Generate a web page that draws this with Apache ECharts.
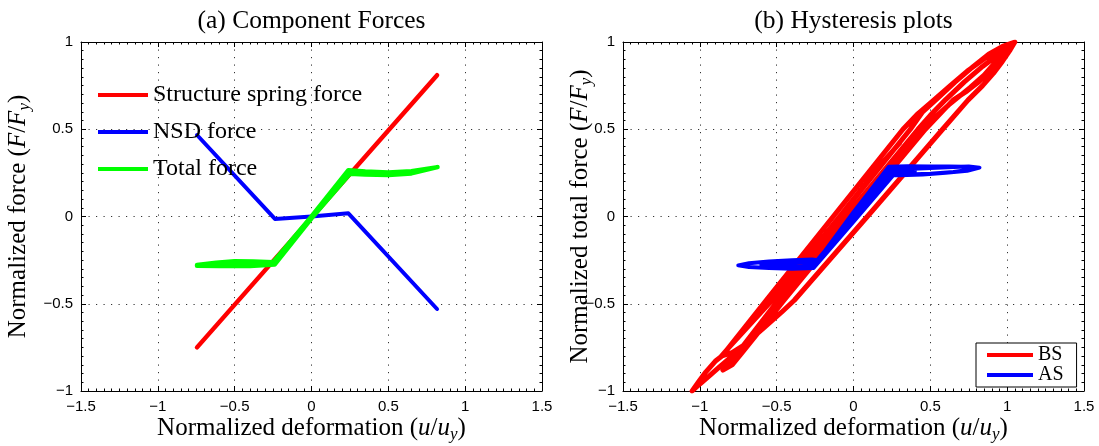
<!DOCTYPE html>
<html>
<head>
<meta charset="utf-8">
<script src="https://cdn.jsdelivr.net/npm/echarts@6/dist/echarts.min.js"></script>
<style>
  html, body { margin: 0; padding: 0; background: #fff; }
  #chart { width: 1099px; height: 446px; }
</style>
</head>
<body>
<div id="chart"></div>
<script>
// Axis ticks shared by both panels
const xTicks = [-1.5, -1, -0.5, 0, 0.5, 1, 1.5];
const yTicks = [-1, -0.5, 0, 0.5, 1];

// (a) Component forces: [normalized deformation, normalized force]
const springForce = [[-0.745, -0.75], [0.817, 0.81]];
const nsdForce = [[-0.745, 0.467], [-0.238, -0.014], [0.0, 0.0], [0.24, 0.018], [0.817, -0.53]];
const totalForce = [
  [-0.745, -0.278], [-0.62, -0.265], [-0.5, -0.257], [-0.38, -0.258], [-0.25, -0.262],
  [0.0, 0.0], [0.24, 0.265], [0.35, 0.258], [0.5, 0.252], [0.65, 0.26], [0.82, 0.283],
  [0.65, 0.247], [0.5, 0.238], [0.35, 0.24], [0.25, 0.245], [0.0, -0.01],
  [-0.24, -0.275], [-0.4, -0.283], [-0.6, -0.283], [-0.745, -0.282]
];

// (b) Hysteresis of the bare structure (BS), traced cycle by cycle
const bsPath = [
  // first loading from rest up to the largest peak
  [-0.09, 0.0], [0.15, 0.26], [0.37, 0.5], [0.45, 0.6], [0.55, 0.68], [0.66, 0.77],
  [0.78, 0.86], [0.88, 0.93], [0.97, 0.975], [1.05, 1.0],
  // unloading to the largest negative peak
  [1.02, 0.955], [0.97, 0.89], [0.91, 0.82], [0.84, 0.75], [0.745, 0.667], [0.58, 0.5],
  [0.1, 0.01], [-0.385, -0.48], [-0.47, -0.55], [-0.58, -0.635], [-0.69, -0.72],
  [-0.79, -0.8], [-0.87, -0.86], [-0.94, -0.915], [-1.0, -0.96], [-1.05, -1.0],
  // reloading
  [-1.01, -0.95], [-0.96, -0.89], [-0.9, -0.83], [-0.856, -0.8], [-0.568, -0.48],
  [-0.132, 0.0], [0.322, 0.5], [0.42, 0.59], [0.52, 0.665], [0.63, 0.75], [0.75, 0.84],
  [0.86, 0.91], [0.94, 0.95], [1.0, 0.965],
  // unloading
  [0.96, 0.91], [0.9, 0.845], [0.82, 0.775], [0.74, 0.72], [0.648, 0.667], [0.468, 0.5],
  [-0.005, 0.0], [-0.452, -0.48], [-0.597, -0.64], [-0.725, -0.78], [-0.79, -0.85], [-0.85, -0.88],
  // reloading
  [-0.81, -0.84], [-0.77, -0.8], [-0.49, -0.48], [-0.05, 0.0], [0.42, 0.5], [0.5, 0.58],
  [0.6, 0.67], [0.72, 0.77], [0.84, 0.86], [0.96, 0.94],
  // unloading
  [0.92, 0.88], [0.85, 0.81], [0.76, 0.74], [0.62, 0.64], [0.445, 0.5], [-0.027, 0.0],
  [-0.47, -0.48], [-0.6, -0.63], [-0.7, -0.73], [-0.79, -0.78], [-0.86, -0.8],
  // last reloading
  [-0.83, -0.77], [-0.81, -0.75], [-0.53, -0.48], [-0.09, 0.0], [0.2, 0.32], [0.3, 0.42]
];
// Same record with the NSD added (AS)
const asPath = [
  [0.0, 0.0], [0.24, 0.262], [0.35, 0.272], [0.5, 0.278], [0.65, 0.283], [0.75, 0.287], [0.82, 0.28],
  [0.74, 0.262], [0.6, 0.25], [0.45, 0.24], [0.3, 0.236], [0.26, 0.238], [0.0, -0.03],
  [-0.26, -0.295], [-0.4, -0.3], [-0.55, -0.295], [-0.68, -0.29], [-0.75, -0.28],
  [-0.68, -0.268], [-0.55, -0.258], [-0.4, -0.25], [-0.27, -0.246], [-0.23, -0.25], [0.0, 0.025],
  [0.23, 0.285], [0.35, 0.288], [0.5, 0.287], [0.62, 0.287], [0.72, 0.285], [0.77, 0.27],
  [0.65, 0.255], [0.5, 0.245], [0.35, 0.24], [0.25, 0.24], [0.0, -0.01], [-0.25, -0.28],
  [-0.35, -0.285], [-0.5, -0.28], [-0.6, -0.275],
  [-0.45, -0.265], [-0.3, -0.26], [-0.25, -0.265], [0.0, 0.0], [0.25, 0.26], [0.4, 0.262]
];

const SERIF = 'Liberation Serif';
const SANS = 'Liberation Sans';

const fmt = v => (v < 0 ? '\u2212' : '') + String(Math.abs(v));

const nameStyle = {
  fontFamily: SERIF, fontSize: 25, color: '#000', lineHeight: 30,
  rich: {
    i: { fontFamily: SERIF, fontSize: 25, fontStyle: 'italic', color: '#000' },
    s: { fontFamily: SERIF, fontSize: 17, fontStyle: 'italic', color: '#000', verticalAlign: 'bottom' }
  }
};

const tickStyle = { color: '#000', width: 1 };
const gridLine = { color: '#333', width: 1, type: [1.2, 6.3] };

function xAxisPair(grid, name) {
  const step = xTicks[1] - xTicks[0];
  const base = {
    gridIndex: grid, type: 'value',
    min: xTicks[0], max: xTicks[xTicks.length - 1], interval: step,
    axisLine: { show: true, onZero: false, lineStyle: { color: '#000', width: 1 } },
    axisTick: { show: true, inside: true, length: 5, lineStyle: tickStyle },
    minorTick: { show: true, splitNumber: 10, length: 2.5, lineStyle: tickStyle },
  };
  return [
    Object.assign({}, base, {
      position: 'bottom',
      axisLabel: { show: true, formatter: fmt, margin: 8, color: '#000', fontFamily: SANS, fontSize: 15,
                   showMinLabel: true, showMaxLabel: true },
      splitLine: { show: true, lineStyle: gridLine },
      name: name, nameLocation: 'middle', nameGap: 22, nameMoveOverlap: false, nameTextStyle: nameStyle
    }),
    Object.assign({}, base, {
      position: 'top', axisLabel: { show: false }, splitLine: { show: false }
    })
  ];
}

function yAxisPair(grid, name, gap) {
  const step = yTicks[1] - yTicks[0];
  const base = {
    gridIndex: grid, type: 'value',
    min: yTicks[0], max: yTicks[yTicks.length - 1], interval: step,
    axisLine: { show: true, onZero: false, lineStyle: { color: '#000', width: 1 } },
    axisTick: { show: true, inside: true, length: 5, lineStyle: tickStyle },
    minorTick: { show: true, splitNumber: 10, length: 2.5, lineStyle: tickStyle },
  };
  return [
    Object.assign({}, base, {
      position: 'left',
      axisLabel: { show: true, formatter: fmt, margin: 8, color: '#000', fontFamily: SANS, fontSize: 15,
                   showMinLabel: true, showMaxLabel: true },
      splitLine: { show: true, lineStyle: gridLine },
      name: name, nameLocation: 'middle', nameGap: gap, nameMoveOverlap: false, nameTextStyle: nameStyle
    }),
    Object.assign({}, base, {
      position: 'right', axisLabel: { show: false }, splitLine: { show: false }
    })
  ];
}

function lineSeries(name, data, color, width, xi, yi) {
  return {
    name: name, type: 'line', data: data,
    xAxisIndex: xi, yAxisIndex: yi,
    showSymbol: false, symbol: 'none', smooth: false,
    lineStyle: { color: color, width: width, cap: 'round', join: 'round' },
    itemStyle: { color: color },
    emphasis: { disabled: true },
    z: 3
  };
}

const chart = echarts.init(document.getElementById('chart'), null, { renderer: 'canvas' });

chart.setOption({
  animation: false,
  backgroundColor: '#fff',
  grid: [
    { left: 81, top: 42, width: 461, height: 349, containLabel: false, outerBoundsMode: 'none' },
    { left: 623, top: 42, width: 461, height: 349, containLabel: false, outerBoundsMode: 'none' }
  ],
  xAxis: [].concat(
    xAxisPair(0, 'Normalized deformation ({i|u}/{i|u}{s|y})'),
    xAxisPair(1, 'Normalized deformation ({i|u}/{i|u}{s|y})')
  ),
  yAxis: [].concat(
    yAxisPair(0, 'Normalized force ({i|F}/{i|F}{s|y})', 48),
    yAxisPair(1, 'Normalized total force ({i|F}/{i|F}{s|y})', 28)
  ),
  graphic: [
    { type: 'text', x: 311.5, y: 21, style: { text: '(a) Component Forces', font: '25.5px "Liberation Serif"', fill: '#000', align: 'center', verticalAlign: 'middle' } },
    { type: 'text', x: 853.5, y: 21, style: { text: '(b) Hysteresis plots', font: '25.5px "Liberation Serif"', fill: '#000', align: 'center', verticalAlign: 'middle' } }
  ],
  legend: [
    {
      data: ['Structure spring force', 'NSD force', 'Total force'],
      orient: 'vertical', left: 98, top: 83, padding: 0,
      icon: 'rect', itemWidth: 50, itemHeight: 4, itemGap: 13,
      textStyle: { fontFamily: SERIF, fontSize: 24, color: '#000', lineHeight: 24 },
      selectedMode: false
    },
    {
      data: ['BS', 'AS'],
      orient: 'vertical', left: 976, top: 343, padding: [2, 13, 2, 11],
      borderColor: '#000', borderWidth: 1, backgroundColor: '#fff',
      icon: 'rect', itemWidth: 46, itemHeight: 4, itemGap: 0,
      textStyle: { fontFamily: SERIF, fontSize: 20, color: '#000', lineHeight: 18 },
      selectedMode: false
    }
  ],
  series: [
    lineSeries('Structure spring force', springForce, '#ff0000', 4.5, 0, 0),
    lineSeries('NSD force', nsdForce, '#0000ff', 4, 0, 0),
    lineSeries('Total force', totalForce, '#00ff00', 4.5, 0, 0),
    lineSeries('BS', bsPath, '#ff0000', 5, 2, 2),
    lineSeries('AS', asPath, '#0000ff', 4, 2, 2)
  ]
});
</script>
</body>
</html>
